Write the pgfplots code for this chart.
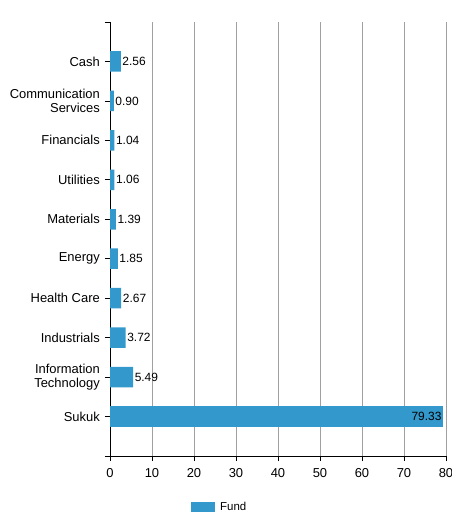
\documentclass[border=0pt]{standalone}
\usepackage{fontspec}
\setmainfont{Liberation Sans}
\usepackage{pgfplots}
\pgfplotsset{compat=1.18}
\definecolor{barblue}{HTML}{3399CC}
\definecolor{gridgray}{HTML}{A0A0A0}
\begin{document}
\begin{tikzpicture}
\path[use as bounding box] (0,0) rectangle (452bp,512bp);
\begin{axis}[
  at={(110bp,56bp)}, anchor=south west,
  scale only axis, width=336bp, height=434bp,
  xmin=0, xmax=80, ymin=-1, ymax=10,
  xbar, bar width=20.5bp,
  axis x line*=bottom, axis y line*=left,
  axis line style={black, line width=0.8bp},
  xtick={0,10,...,80},
  ytick={-1,0,1,2,3,4,5,6,7,8,9,10},
  yticklabels={,Sukuk,{Information\\Technology},Industrials,Health Care,Energy,Materials,Utilities,Financials,{Communication\\Services},Cash,},
  tick align=outside, major tick length=5bp,
  tick style={black, line width=0.8bp},
  xmajorgrids, major x grid style={gridgray, line width=0.9bp},
  ymajorgrids=false,
  yticklabel style={font=\fontsize{13}{13.5}\selectfont, align=right, inner sep=0pt, xshift=-5bp},
  xticklabel style={font=\fontsize{13}{14}\selectfont, inner sep=0pt, yshift=-7bp},
  /pgf/number format/assume math mode=true,
  nodes near coords,
  nodes near coords style={font=\fontsize{12}{13}\selectfont, /pgf/number format/fixed, /pgf/number format/fixed zerofill, /pgf/number format/precision=2, /pgf/number format/assume math mode=true},
  legend style={at={(0.241,-0.1175)}, anchor=west, draw=none, font=\fontsize{11.5}{12}\selectfont, inner sep=0pt, legend cell align=left, /tikz/every even column/.append style={column sep=4bp}},
  legend image code/.code={\fill[barblue] (0bp,-5bp) rectangle (24bp,5bp);},
]
\addplot[fill=barblue, draw=none, bar shift=0pt, nodes near coords style={anchor=west, inner sep=1.5bp}] coordinates {
(5.49,1) (3.72,2) (2.67,3) (1.85,4) (1.39,5) (1.06,6) (1.04,7) (0.90,8) (2.56,9)};
\addlegendentry{\hspace{3bp}Fund}
\addplot[fill=barblue, draw=none, bar shift=0pt, forget plot, nodes near coords style={anchor=east, inner sep=1.5bp}] coordinates {(79.33,0)};
\end{axis}
\end{tikzpicture}
\end{document}
